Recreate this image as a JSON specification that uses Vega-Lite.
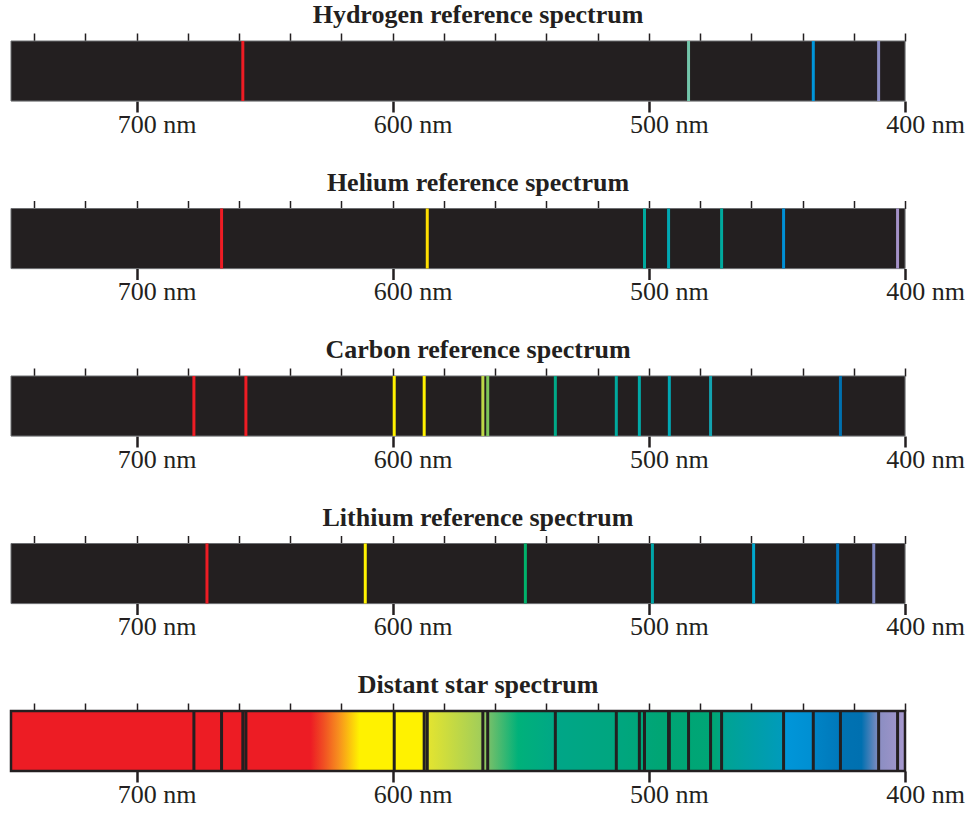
{
  "$schema": "https://vega.github.io/schema/vega-lite/v6.json",
  "padding": {"left": 9, "top": 1, "right": 0, "bottom": 0},
  "spacing": 30.5,
  "datasets": {
    "extent": [{"from": 749, "to": 400, "low": 0, "high": 1}],
    "lines": [
      {"element": "Hydrogen", "nm": 658.5},
      {"element": "Hydrogen", "nm": 484.5},
      {"element": "Hydrogen", "nm": 435.8},
      {"element": "Hydrogen", "nm": 410.3},
      {"element": "Helium", "nm": 666.8},
      {"element": "Helium", "nm": 586.5},
      {"element": "Helium", "nm": 501.7},
      {"element": "Helium", "nm": 492.3},
      {"element": "Helium", "nm": 471.6},
      {"element": "Helium", "nm": 447.4},
      {"element": "Helium", "nm": 402.9},
      {"element": "Carbon", "nm": 677.6},
      {"element": "Carbon", "nm": 657.3},
      {"element": "Carbon", "nm": 599.4},
      {"element": "Carbon", "nm": 587.7},
      {"element": "Carbon", "nm": 564.8},
      {"element": "Carbon", "nm": 562.9},
      {"element": "Carbon", "nm": 536.5},
      {"element": "Carbon", "nm": 512.7},
      {"element": "Carbon", "nm": 503.7},
      {"element": "Carbon", "nm": 492.0},
      {"element": "Carbon", "nm": 475.9},
      {"element": "Carbon", "nm": 425.2},
      {"element": "Lithium", "nm": 672.5},
      {"element": "Lithium", "nm": 610.7},
      {"element": "Lithium", "nm": 548.2},
      {"element": "Lithium", "nm": 498.6},
      {"element": "Lithium", "nm": 459.1},
      {"element": "Lithium", "nm": 426.3},
      {"element": "Lithium", "nm": 412.2}
    ]
  },
  "vconcat": [
    {
      "title": {"text": "Hydrogen reference spectrum", "font": "Liberation Serif", "fontSize": 26, "fontWeight": "bold", "color": "#231F20", "dx": 20},
      "width": 894, "height": 60,
      "layer": [
        {
          "data": {"name": "extent"},
          "mark": {"type": "rect", "fill": "#231F20", "stroke": "#6D6E71", "strokeWidth": 1},
          "encoding": {
            "x": {"field": "from", "type": "quantitative", "scale": {"domain": [400, 749], "reverse": true, "nice": false, "zero": false},
              "axis": {"orient": "top", "values": [740,720,700,680,660,640,620,600,580,560,540,520,500,480,460,440,420,400], "labels": false, "tickSize": 8, "tickWidth": 1.5, "tickColor": "#231F20", "domain": false, "grid": false, "title": null}},
            "x2": {"field": "to"},
            "y": {"field": "low", "type": "quantitative", "scale": {"domain": [0, 1], "nice": false}, "axis": null},
            "y2": {"field": "high"}
          }
        },
        {
          "data": {"name": "lines"},
          "transform": [{"filter": "datum.element === 'Hydrogen'"}],
          "mark": {"type": "rule", "strokeWidth": 3},
          "encoding": {
            "x": {"field": "nm", "type": "quantitative",
              "axis": {"orient": "bottom", "values": [700,600,500,400], "labelExpr": "datum.value + ' nm'", "tickSize": 11, "tickWidth": 2.5, "tickColor": "#231F20", "labelFont": "Liberation Serif", "labelFontSize": 26, "labelColor": "#231F20", "labelPadding": -1, "labelOffset": 20, "labelFlush": false, "labelOverlap": false, "labelBound": false, "domain": false, "grid": false, "title": null}},
            "y": {"datum": 0, "type": "quantitative"},
            "y2": {"datum": 1},
            "color": {"field": "nm", "type": "quantitative", "legend": null,
              "scale": {"interpolate": "rgb",
                "domain": [400, 403, 410.3, 412.2, 425.2, 426.3, 435.8, 447.4, 459.1, 471.6, 475.9, 484.5, 492.0, 498.6, 501.7, 503.7, 512.7, 536.5, 548.2, 562.9, 564.8, 586.5, 587.7, 610.7, 650, 750],
                "range": ["#A592C8", "#A592C8", "#8D8EC4", "#8088C3", "#0070AE", "#0071B8", "#0095DA", "#008FD5", "#00A8CE", "#00A99D", "#13A3B0", "#73C5AA", "#00A8B4", "#00A5A8", "#00A99D", "#00AAA8", "#00A99D", "#00A887", "#00B26B", "#7DC55A", "#BDD746", "#FFDE00", "#FFF200", "#FFF200", "#ED1C24", "#ED1C24"]}}
          }
        }
      ],
      "resolve": {"axis": {"x": "independent"}}
    },
    {
      "title": {"text": "Helium reference spectrum", "font": "Liberation Serif", "fontSize": 26, "fontWeight": "bold", "color": "#231F20", "dx": 20},
      "width": 894, "height": 60,
      "layer": [
        {
          "data": {"name": "extent"},
          "mark": {"type": "rect", "fill": "#231F20", "stroke": "#6D6E71", "strokeWidth": 1},
          "encoding": {
            "x": {"field": "from", "type": "quantitative", "scale": {"domain": [400, 749], "reverse": true, "nice": false, "zero": false},
              "axis": {"orient": "top", "values": [740,720,700,680,660,640,620,600,580,560,540,520,500,480,460,440,420,400], "labels": false, "tickSize": 8, "tickWidth": 1.5, "tickColor": "#231F20", "domain": false, "grid": false, "title": null}},
            "x2": {"field": "to"},
            "y": {"field": "low", "type": "quantitative", "scale": {"domain": [0, 1], "nice": false}, "axis": null},
            "y2": {"field": "high"}
          }
        },
        {
          "data": {"name": "lines"},
          "transform": [{"filter": "datum.element === 'Helium'"}],
          "mark": {"type": "rule", "strokeWidth": 3},
          "encoding": {
            "x": {"field": "nm", "type": "quantitative",
              "axis": {"orient": "bottom", "values": [700,600,500,400], "labelExpr": "datum.value + ' nm'", "tickSize": 11, "tickWidth": 2.5, "tickColor": "#231F20", "labelFont": "Liberation Serif", "labelFontSize": 26, "labelColor": "#231F20", "labelPadding": -1, "labelOffset": 20, "labelFlush": false, "labelOverlap": false, "labelBound": false, "domain": false, "grid": false, "title": null}},
            "y": {"datum": 0, "type": "quantitative"},
            "y2": {"datum": 1},
            "color": {"field": "nm", "type": "quantitative", "legend": null,
              "scale": {"interpolate": "rgb",
                "domain": [400, 403, 410.3, 412.2, 425.2, 426.3, 435.8, 447.4, 459.1, 471.6, 475.9, 484.5, 492.0, 498.6, 501.7, 503.7, 512.7, 536.5, 548.2, 562.9, 564.8, 586.5, 587.7, 610.7, 650, 750],
                "range": ["#A592C8", "#A592C8", "#8D8EC4", "#8088C3", "#0070AE", "#0071B8", "#0095DA", "#008FD5", "#00A8CE", "#00A99D", "#13A3B0", "#73C5AA", "#00A8B4", "#00A5A8", "#00A99D", "#00AAA8", "#00A99D", "#00A887", "#00B26B", "#7DC55A", "#BDD746", "#FFDE00", "#FFF200", "#FFF200", "#ED1C24", "#ED1C24"]}}
          }
        }
      ],
      "resolve": {"axis": {"x": "independent"}}
    },
    {
      "title": {"text": "Carbon reference spectrum", "font": "Liberation Serif", "fontSize": 26, "fontWeight": "bold", "color": "#231F20", "dx": 20},
      "width": 894, "height": 60,
      "layer": [
        {
          "data": {"name": "extent"},
          "mark": {"type": "rect", "fill": "#231F20", "stroke": "#6D6E71", "strokeWidth": 1},
          "encoding": {
            "x": {"field": "from", "type": "quantitative", "scale": {"domain": [400, 749], "reverse": true, "nice": false, "zero": false},
              "axis": {"orient": "top", "values": [740,720,700,680,660,640,620,600,580,560,540,520,500,480,460,440,420,400], "labels": false, "tickSize": 8, "tickWidth": 1.5, "tickColor": "#231F20", "domain": false, "grid": false, "title": null}},
            "x2": {"field": "to"},
            "y": {"field": "low", "type": "quantitative", "scale": {"domain": [0, 1], "nice": false}, "axis": null},
            "y2": {"field": "high"}
          }
        },
        {
          "data": {"name": "lines"},
          "transform": [{"filter": "datum.element === 'Carbon'"}],
          "mark": {"type": "rule", "strokeWidth": 3},
          "encoding": {
            "x": {"field": "nm", "type": "quantitative",
              "axis": {"orient": "bottom", "values": [700,600,500,400], "labelExpr": "datum.value + ' nm'", "tickSize": 11, "tickWidth": 2.5, "tickColor": "#231F20", "labelFont": "Liberation Serif", "labelFontSize": 26, "labelColor": "#231F20", "labelPadding": -1, "labelOffset": 20, "labelFlush": false, "labelOverlap": false, "labelBound": false, "domain": false, "grid": false, "title": null}},
            "y": {"datum": 0, "type": "quantitative"},
            "y2": {"datum": 1},
            "color": {"field": "nm", "type": "quantitative", "legend": null,
              "scale": {"interpolate": "rgb",
                "domain": [400, 403, 410.3, 412.2, 425.2, 426.3, 435.8, 447.4, 459.1, 471.6, 475.9, 484.5, 492.0, 498.6, 501.7, 503.7, 512.7, 536.5, 548.2, 562.9, 564.8, 586.5, 587.7, 610.7, 650, 750],
                "range": ["#A592C8", "#A592C8", "#8D8EC4", "#8088C3", "#0070AE", "#0071B8", "#0095DA", "#008FD5", "#00A8CE", "#00A99D", "#13A3B0", "#73C5AA", "#00A8B4", "#00A5A8", "#00A99D", "#00AAA8", "#00A99D", "#00A887", "#00B26B", "#7DC55A", "#BDD746", "#FFDE00", "#FFF200", "#FFF200", "#ED1C24", "#ED1C24"]}}
          }
        }
      ],
      "resolve": {"axis": {"x": "independent"}}
    },
    {
      "title": {"text": "Lithium reference spectrum", "font": "Liberation Serif", "fontSize": 26, "fontWeight": "bold", "color": "#231F20", "dx": 20},
      "width": 894, "height": 60,
      "layer": [
        {
          "data": {"name": "extent"},
          "mark": {"type": "rect", "fill": "#231F20", "stroke": "#6D6E71", "strokeWidth": 1},
          "encoding": {
            "x": {"field": "from", "type": "quantitative", "scale": {"domain": [400, 749], "reverse": true, "nice": false, "zero": false},
              "axis": {"orient": "top", "values": [740,720,700,680,660,640,620,600,580,560,540,520,500,480,460,440,420,400], "labels": false, "tickSize": 8, "tickWidth": 1.5, "tickColor": "#231F20", "domain": false, "grid": false, "title": null}},
            "x2": {"field": "to"},
            "y": {"field": "low", "type": "quantitative", "scale": {"domain": [0, 1], "nice": false}, "axis": null},
            "y2": {"field": "high"}
          }
        },
        {
          "data": {"name": "lines"},
          "transform": [{"filter": "datum.element === 'Lithium'"}],
          "mark": {"type": "rule", "strokeWidth": 3},
          "encoding": {
            "x": {"field": "nm", "type": "quantitative",
              "axis": {"orient": "bottom", "values": [700,600,500,400], "labelExpr": "datum.value + ' nm'", "tickSize": 11, "tickWidth": 2.5, "tickColor": "#231F20", "labelFont": "Liberation Serif", "labelFontSize": 26, "labelColor": "#231F20", "labelPadding": -1, "labelOffset": 20, "labelFlush": false, "labelOverlap": false, "labelBound": false, "domain": false, "grid": false, "title": null}},
            "y": {"datum": 0, "type": "quantitative"},
            "y2": {"datum": 1},
            "color": {"field": "nm", "type": "quantitative", "legend": null,
              "scale": {"interpolate": "rgb",
                "domain": [400, 403, 410.3, 412.2, 425.2, 426.3, 435.8, 447.4, 459.1, 471.6, 475.9, 484.5, 492.0, 498.6, 501.7, 503.7, 512.7, 536.5, 548.2, 562.9, 564.8, 586.5, 587.7, 610.7, 650, 750],
                "range": ["#A592C8", "#A592C8", "#8D8EC4", "#8088C3", "#0070AE", "#0071B8", "#0095DA", "#008FD5", "#00A8CE", "#00A99D", "#13A3B0", "#73C5AA", "#00A8B4", "#00A5A8", "#00A99D", "#00AAA8", "#00A99D", "#00A887", "#00B26B", "#7DC55A", "#BDD746", "#FFDE00", "#FFF200", "#FFF200", "#ED1C24", "#ED1C24"]}}
          }
        }
      ],
      "resolve": {"axis": {"x": "independent"}}
    },
    {
      "title": {"text": "Distant star spectrum", "font": "Liberation Serif", "fontSize": 26, "fontWeight": "bold", "color": "#231F20", "dx": 20},
      "width": 894, "height": 60,
      "layer": [
        {
          "data": {"name": "extent"},
          "mark": {"type": "rect", "stroke": "#231F20", "strokeWidth": 2.5, "fill": {"gradient": "linear", "x1": 0, "y1": 0, "x2": 1, "y2": 0, "stops": [
            {"offset": 0, "color": "#ED1C24"},
            {"offset": 0.3352, "color": "#ED1C24"},
            {"offset": 0.3496, "color": "#F04E23"},
            {"offset": 0.3668, "color": "#F7901E"},
            {"offset": 0.3897, "color": "#FFF200"},
            {"offset": 0.4585, "color": "#FFF200"},
            {"offset": 0.4642, "color": "#E6E52E"},
            {"offset": 0.5272, "color": "#A0CD5A"},
            {"offset": 0.5358, "color": "#70BF6A"},
            {"offset": 0.5673, "color": "#00B17A"},
            {"offset": 0.6132, "color": "#00A687"},
            {"offset": 0.6848, "color": "#00A67E"},
            {"offset": 0.7278, "color": "#00A574"},
            {"offset": 0.7880, "color": "#00A676"},
            {"offset": 0.7994, "color": "#00A394"},
            {"offset": 0.8625, "color": "#009BBB"},
            {"offset": 0.8653, "color": "#0096D9"},
            {"offset": 0.8968, "color": "#008FD2"},
            {"offset": 0.8997, "color": "#0083C5"},
            {"offset": 0.9255, "color": "#0079BB"},
            {"offset": 0.9312, "color": "#0072B2"},
            {"offset": 0.9513, "color": "#0070B0"},
            {"offset": 0.9713, "color": "#8B8EC2"},
            {"offset": 0.9914, "color": "#9D94C9"},
            {"offset": 1, "color": "#A899CF"}
          ]}},
          "encoding": {
            "x": {"field": "from", "type": "quantitative", "scale": {"domain": [400, 749], "reverse": true, "nice": false, "zero": false},
              "axis": {"orient": "top", "values": [740,720,700,680,660,640,620,600,580,560,540,520,500,480,460,440,420,400], "labels": false, "tickSize": 8, "tickWidth": 1.5, "tickColor": "#231F20", "domain": false, "grid": false, "title": null}},
            "x2": {"field": "to"},
            "y": {"field": "low", "type": "quantitative", "scale": {"domain": [0, 1], "nice": false}, "axis": null},
            "y2": {"field": "high"}
          }
        },
        {
          "data": {"name": "lines"},
          "transform": [{"filter": "datum.element !== 'Lithium'"}],
          "mark": {"type": "rule", "strokeWidth": 3, "color": "#231F20"},
          "encoding": {
            "x": {"field": "nm", "type": "quantitative",
              "axis": {"orient": "bottom", "values": [700,600,500,400], "labelExpr": "datum.value + ' nm'", "tickSize": 11, "tickWidth": 2.5, "tickColor": "#231F20", "labelFont": "Liberation Serif", "labelFontSize": 26, "labelColor": "#231F20", "labelPadding": -1, "labelOffset": 20, "labelFlush": false, "labelOverlap": false, "labelBound": false, "domain": false, "grid": false, "title": null}},
            "y": {"datum": 0, "type": "quantitative"},
            "y2": {"datum": 1}
          }
        }
      ],
      "resolve": {"axis": {"x": "independent"}}
    }
  ]
}
